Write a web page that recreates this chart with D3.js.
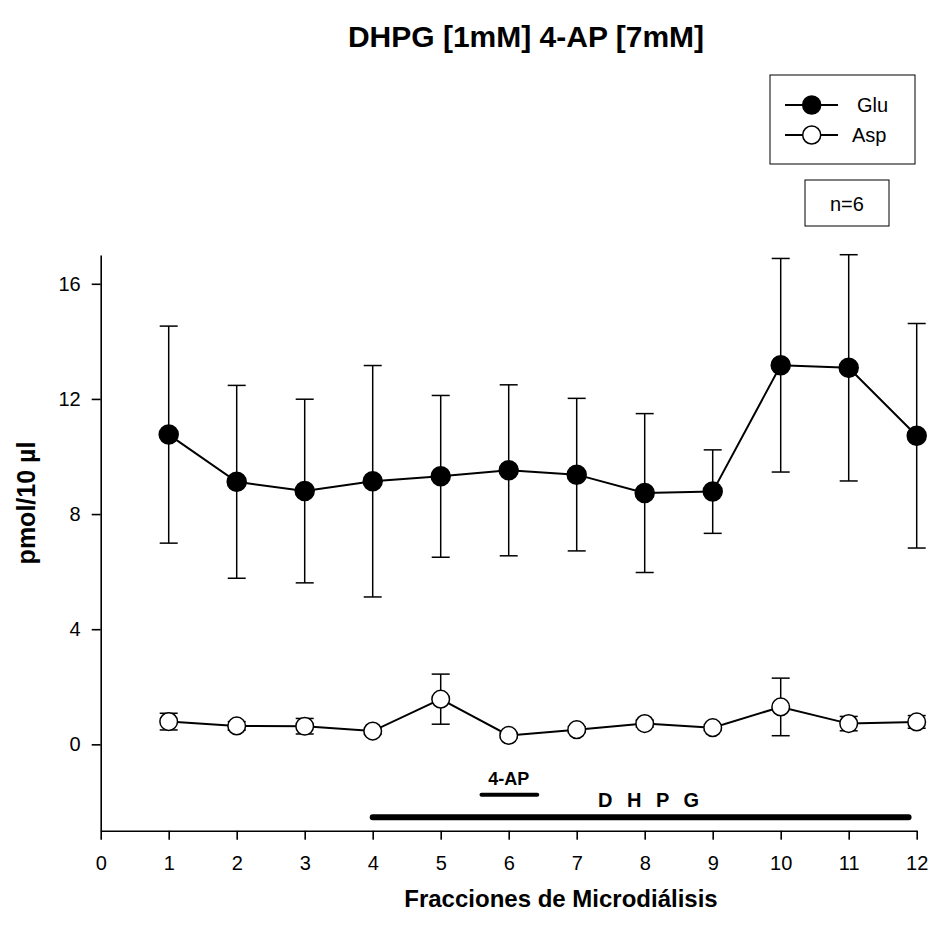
<!DOCTYPE html>
<html>
<head>
<meta charset="utf-8">
<script src="https://cdn.jsdelivr.net/npm/d3@7"></script>
<style>
  body { margin: 0; background: #fff; }
  svg { font-family: "Liberation Sans", Arial, sans-serif; }
</style>
</head>
<body>
<div id="chart"></div>
<script>
// Data
var fractions = [1, 2, 3, 4, 5, 6, 7, 8, 9, 10, 11, 12];
var gluMean = [10.76, 9.12, 8.80, 9.14, 9.31, 9.52, 9.37, 8.73, 8.78, 13.17, 13.08, 10.72];
var gluErr = [3.77, 3.35, 3.19, 4.02, 2.81, 2.97, 2.65, 2.76, 1.45, 3.71, 3.93, 3.90];
var aspMean = [0.79, 0.64, 0.63, 0.46, 1.57, 0.31, 0.51, 0.72, 0.58, 1.30, 0.72, 0.78];
var aspErr = [0.29, 0.15, 0.27, 0.10, 0.87, 0.08, 0.10, 0.12, 0.10, 1.00, 0.25, 0.22];
var xTicks = [0, 1, 2, 3, 4, 5, 6, 7, 8, 9, 10, 11, 12];
var yTicks = [0, 4, 8, 12, 16];
// treatment bars: [start, end, level]
var apBar = [5.6, 6.42, -1.75];
var dhpgBar = [4.0, 11.88, -2.53];

var svgWidth = 932;
var svgHeight = 926;

var svg = d3.select("#chart")
  .append("svg")
  .attr("width", svgWidth)
  .attr("height", svgHeight);

var x = d3.scaleLinear().domain([0, 12]).range([100.7, 916.7]);
var y = d3.scaleLinear().domain([-3, 17]).range([830.7, 255]);

// Axes
svg.append("g")
  .attr("transform", `translate(0, ${y(-3)})`)
  .call(d3.axisBottom(x).tickValues(xTicks).tickSize(9).tickSizeOuter(0).tickPadding(16));

svg.append("g")
  .attr("transform", `translate(${x(0)}, 0)`)
  .call(d3.axisLeft(y).tickValues(yTicks).tickSize(9).tickSizeOuter(0).tickPadding(11));

svg.selectAll(".domain, .tick line")
  .attr("stroke", "#000")
  .attr("stroke-width", 1.6);
svg.selectAll(".tick text")
  .attr("font-size", "20px")
  .attr("font-family", "Liberation Sans, Arial, sans-serif")
  .attr("fill", "#000");

// Titles
svg.append("text")
  .attr("x", 526)
  .attr("y", 47)
  .attr("text-anchor", "middle")
  .attr("font-size", "30px")
  .attr("font-weight", "bold")
  .text("DHPG [1mM] 4-AP [7mM]");

svg.append("text")
  .attr("x", 561)
  .attr("y", 907)
  .attr("text-anchor", "middle")
  .attr("font-size", "24px")
  .attr("font-weight", "bold")
  .text("Fracciones de Microdiálisis");

svg.append("text")
  .attr("transform", "translate(35, 503) rotate(-90)")
  .attr("text-anchor", "middle")
  .attr("font-size", "25px")
  .attr("font-weight", "bold")
  .text("pmol/10 µl");

// Series
function drawSeries(mean, err, fill, r) {
  var g = svg.append("g");
  var pts = fractions.map((f, i) => ({ x: f, m: mean[i], e: err[i] }));

  g.selectAll(".bar")
    .data(pts)
    .enter()
    .append("line")
    .attr("class", "bar")
    .attr("x1", d => x(d.x))
    .attr("x2", d => x(d.x))
    .attr("y1", d => y(d.m + d.e))
    .attr("y2", d => y(d.m - d.e))
    .attr("stroke", "#000")
    .attr("stroke-width", 1.5);

  [1, -1].forEach(function(sign, k) {
    g.selectAll(".cap" + k)
      .data(pts)
      .enter()
      .append("line")
      .attr("class", "cap" + k)
      .attr("x1", d => x(d.x) - 9)
      .attr("x2", d => x(d.x) + 9)
      .attr("y1", d => y(d.m + sign * d.e))
      .attr("y2", d => y(d.m + sign * d.e))
      .attr("stroke", "#000")
      .attr("stroke-width", 1.5);
  });

  var line = d3.line().x(d => x(d.x)).y(d => y(d.m));
  g.append("path")
    .datum(pts)
    .attr("d", line)
    .attr("fill", "none")
    .attr("stroke", "#000")
    .attr("stroke-width", 2);

  g.selectAll("circle")
    .data(pts)
    .enter()
    .append("circle")
    .attr("cx", d => x(d.x))
    .attr("cy", d => y(d.m))
    .attr("r", r)
    .attr("fill", fill)
    .attr("stroke", "#000")
    .attr("stroke-width", 1.5);
}

drawSeries(gluMean, gluErr, "#000", 9.5);
drawSeries(aspMean, aspErr, "#fff", 8.8);

// Treatment bars
svg.append("line")
  .attr("x1", x(apBar[0])).attr("x2", x(apBar[1]))
  .attr("y1", y(apBar[2])).attr("y2", y(apBar[2]))
  .attr("stroke", "#000").attr("stroke-width", 4).attr("stroke-linecap", "round");
svg.append("text")
  .attr("x", x(6))
  .attr("y", y(apBar[2]) - 10)
  .attr("text-anchor", "middle")
  .attr("font-size", "18px")
  .attr("font-weight", "bold")
  .text("4-AP");

svg.append("line")
  .attr("x1", x(dhpgBar[0])).attr("x2", x(dhpgBar[1]))
  .attr("y1", y(dhpgBar[2])).attr("y2", y(dhpgBar[2]))
  .attr("stroke", "#000").attr("stroke-width", 6).attr("stroke-linecap", "round");
svg.append("text")
  .attr("x", 598)
  .attr("y", 807)
  .attr("font-size", "20px")
  .attr("font-weight", "bold")
  .attr("letter-spacing", "4.5px")
  .text("D H P G");

// Legend
var legend = svg.append("g");
legend.append("rect")
  .attr("x", 770).attr("y", 75).attr("width", 145).attr("height", 89)
  .attr("fill", "#fff").attr("stroke", "#000").attr("stroke-width", 1);
var legendItems = [
  { label: "Glu", fill: "#000", ly: 105, tx: 857 },
  { label: "Asp", fill: "#fff", ly: 135, tx: 852 }
];
legendItems.forEach(function(d) {
  legend.append("line")
    .attr("x1", 785).attr("x2", 838).attr("y1", d.ly).attr("y2", d.ly)
    .attr("stroke", "#000").attr("stroke-width", 2);
  legend.append("circle")
    .attr("cx", 811.7).attr("cy", d.ly).attr("r", 9)
    .attr("fill", d.fill).attr("stroke", "#000").attr("stroke-width", 1.5);
  legend.append("text")
    .attr("x", d.tx).attr("y", d.ly + 7)
    .attr("font-size", "20px")
    .text(d.label);
});

svg.append("rect")
  .attr("x", 805).attr("y", 180).attr("width", 84).attr("height", 46)
  .attr("fill", "#fff").attr("stroke", "#000").attr("stroke-width", 1);
svg.append("text")
  .attr("x", 830).attr("y", 211)
  .attr("font-size", "20px")
  .text("n=6");
</script>
</body>
</html>
